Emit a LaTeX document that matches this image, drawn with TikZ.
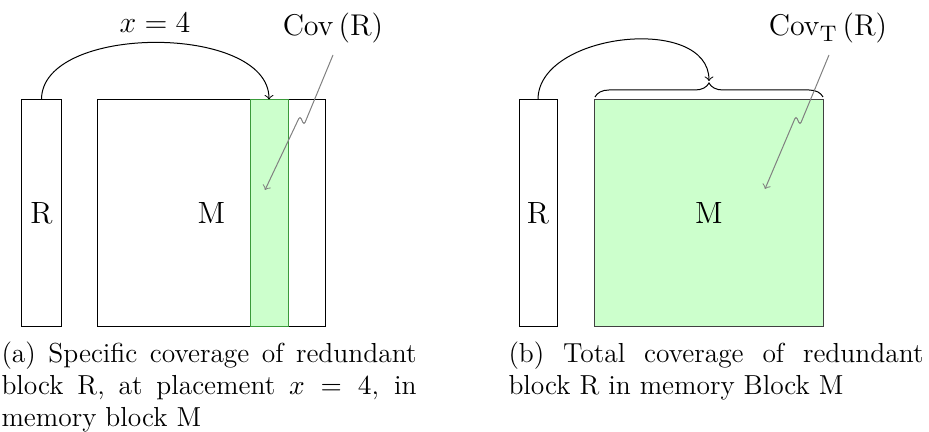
\documentclass[tikz,border=0pt]{standalone}
\usetikzlibrary{decorations.pathreplacing}
\definecolor{covfill}{HTML}{CCFFCC}
\definecolor{covedge}{HTML}{3A9A3A}
\newcommand{\nohyph}{\hyphenpenalty 10000 \exhyphenpenalty 10000 }
\begin{document}
\begin{tikzpicture}[x=0.4pt,y=-0.4pt,
  blk/.style={draw,inner sep=0pt,minimum height=90.8pt,font=\fontsize{12.3}{14}\selectfont},
  lbl/.style={inner sep=0pt,anchor=base,font=\fontsize{12.3}{14}\selectfont},
  captext/.style={inner sep=0pt,anchor=north west,text width=166pt,align=justify,font={\fontsize{11}{12.8}\selectfont\nohyph}},
  pointer/.style={draw=gray,->,rounded corners=1.2pt},
  hop/.style={draw,->}]
\useasboundingbox (0,0) rectangle (929,432);
% ---------- left panel ----------
\node[blk,minimum width=15.6pt] (R1) at (41.5,213.5) {R};
\node[blk,minimum width=90.8pt] (M1) at (211.5,213.5) {M};
\node[draw=covedge,fill=covfill,inner sep=0pt,minimum width=15.2pt,minimum height=90.8pt] (S1) at (269,213.5) {};
\draw[hop] (R1.north) .. controls +(0,-76) and +(0,-76) .. (S1.north);
\node[lbl] (x4) at (155,33) {$x=4$};
\node[lbl] (cov1) at (333,36) {$\mathrm{Cov}\left(\mathrm{R}\right)$};
\coordinate (c1s) at (333,55);
\coordinate (c1a) at (304,125);
\coordinate (c1b) at (300,116);
\coordinate (c1e) at (265,190);
\draw[pointer] (c1s) -- (c1a) -- (c1b) -- (c1e);
\node[captext] (capa) at (1,341) {(a) Specific coverage of redundant block R, at placement $x=4$, in memory block M};
% ---------- right panel ----------
\node[blk,minimum width=15.2pt] (R2) at (538,213.5) {R};
\node[blk,draw=black!75,fill=covfill,minimum width=91.2pt] (M2) at (709,213.5) {M};
\coordinate (bl) at (595,97);
\coordinate (br) at (823,97);
\draw[decorate,decoration={brace,amplitude=5.6pt}] (bl) -- (br);
\coordinate (tip) at (709,81);
\draw[hop] (R2.north) .. controls +(0,-67) and +(0,-67) .. (tip);
\node[lbl] (cov2) at (828,36) {$\mathrm{Cov}_\mathrm{T}\left(\mathrm{R}\right)$};
\coordinate (c2s) at (829,55);
\coordinate (c2a) at (800,125);
\coordinate (c2b) at (796,116);
\coordinate (c2e) at (765,189);
\draw[pointer] (c2s) -- (c2a) -- (c2b) -- (c2e);
\node[captext] (capb) at (508,341) {(b) Total coverage of redundant block R in memory Block M};
\end{tikzpicture}
\end{document}
